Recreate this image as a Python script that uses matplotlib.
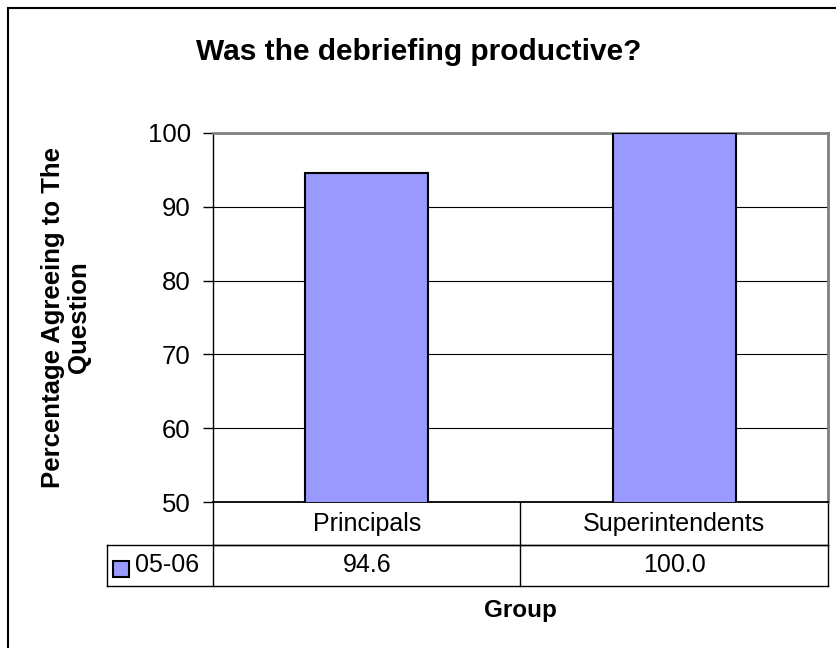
import matplotlib
matplotlib.use("Agg")
import matplotlib.pyplot as plt
from matplotlib.patches import Rectangle
from matplotlib.lines import Line2D

plt.rcParams['font.family'] = ['Liberation Sans', 'DejaVu Sans']

# data
groups = ['Principals', 'Superintendents']
values = [94.6, 100.0]
value_labels = ['94.6', '100.0']
series_name = '05-06'
yticks = [50, 60, 70, 80, 90, 100]

bar_color = '#9999FF'

fig = plt.figure(figsize=(8.37, 6.48), dpi=100)
ax = fig.add_axes([213 / 837, 1 - 502 / 648, 615 / 837, 369 / 648])

x = list(range(len(groups)))
ax.bar(x, values, width=0.4, color=bar_color, edgecolor='black', linewidth=1.5, zorder=3)

ax.set_xlim(-0.5, len(groups) - 0.5)
ax.set_ylim(50, 100)
ax.set_yticks(yticks)
ax.tick_params(axis='y', labelsize=18.5, length=7, width=1, pad=9)
ax.set_xticks([])
ax.yaxis.grid(True, color='black', linewidth=0.8)
ax.set_axisbelow(True)

for side in ['top', 'right']:
    ax.spines[side].set_color('#808080')
    ax.spines[side].set_linewidth(2)
ax.spines['left'].set_linewidth(1)
ax.spines['bottom'].set_linewidth(1.3)

# --- data table under the axis ---
r1, r2 = 43 / 369, 41 / 369
key_left = -106 / 615
tx = ax.get_xaxis_transform()
ta = ax.transAxes
kw = dict(color='black', linewidth=1, clip_on=False)

# horizontal rules
ax.add_line(Line2D([0, 1], [-r1, -r1], transform=ta, **kw))
ax.add_line(Line2D([key_left, 1], [-r1, -r1], transform=ta, **kw))
ax.add_line(Line2D([key_left, 1], [-r1 - r2, -r1 - r2], transform=ta, **kw))
# vertical rules at category boundaries
for b in [i - 0.5 for i in range(len(groups) + 1)]:
    ax.add_line(Line2D([b, b], [0, -r1 - r2], transform=tx, **kw))
ax.add_line(Line2D([key_left, key_left], [-r1, -r1 - r2], transform=ta, **kw))

for xi, g, v in zip(x, groups, value_labels):
    ax.text(xi, -r1 / 2, g, transform=tx, ha='center', va='center', fontsize=18)
    ax.text(xi, -r1 - r2 / 2, v, transform=tx, ha='center', va='center', fontsize=18)

# legend key in the row header
ax.add_patch(Rectangle((-100 / 615, -75 / 369), 16 / 615, 16 / 369, transform=ta,
                       facecolor=bar_color, edgecolor='black', linewidth=1.5, clip_on=False))
ax.text(-78 / 615, -r1 - r2 / 2, series_name, transform=ta, ha='left', va='center', fontsize=18)

# labels
ax.set_ylabel('Percentage Agreeing to The\nQuestion', fontsize=18.5, fontweight='bold',
              va='center', ha='center', linespacing=1.1)
ax.yaxis.set_label_coords(-147 / 615, 0.5)
ax.set_xlabel('Group', fontsize=17.5, fontweight='bold', va='center')
ax.xaxis.set_label_coords(0.5, -108 / 369)

fig.text(0.5, 1 - 52 / 648, 'Was the debriefing productive?', ha='center', va='center',
         fontsize=21.5, fontweight='bold')

# chart area border (right and bottom run off the image)
fig.patches.append(Rectangle((8 / 837, -0.1), 1.2, 1 - 8 / 648 + 0.1, transform=fig.transFigure,
                             fill=False, edgecolor='black', linewidth=1.5))

fig.savefig('out.png', dpi=100)
